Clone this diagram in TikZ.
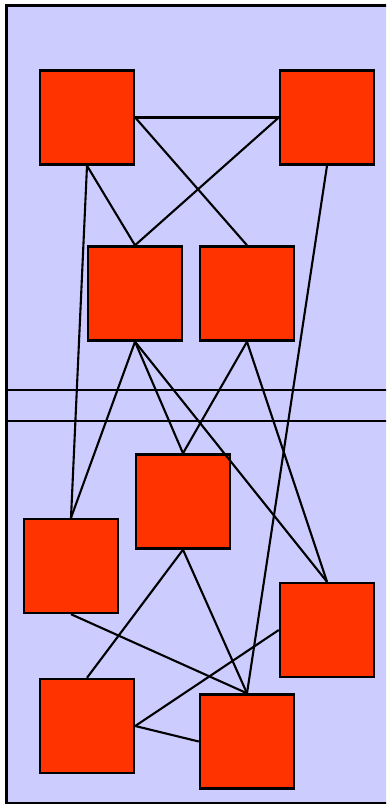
\documentclass[tikz,border=0pt]{standalone}
\usepackage{tikz}
\definecolor{panelblue}{HTML}{CCCCFF}
\definecolor{boxred}{HTML}{FF3300}
\begin{document}
\begin{tikzpicture}[
  x=0.02cm, y=-0.02cm,
  box/.style={rectangle, draw, fill=boxred, line width=1.4pt, minimum size=1.88cm, inner sep=0pt},
  link/.style={line width=1.2pt}
]
\clip (0,0) rectangle (386,805);

% Panel and separators
\draw[fill=panelblue, line width=1.3pt] (6.5,5.5) rectangle (400,803);
\draw[line width=1.3pt] (6.5,390) -- (400,390);
\draw[line width=1.3pt] (6.5,421) -- (400,421);

% Boxes
\node[box] (topleft) at (87,117.5) {};
\node[box] (topright) at (327,117.5) {};
\node[box] (midleft) at (135,293.5) {};
\node[box] (midright) at (247,293.5) {};
\node[box] (lowcenter) at (183,501.5) {};
\node[box] (lowleft) at (71,566) {};
\node[box] (lowright) at (327,630) {};
\node[box] (botleft) at (87,726) {};
\node[box] (botright) at (247,741.5) {};

% Links
\draw[link] (topleft.east) -- (topright.west);
\draw[link] (topleft.east) -- (midright.north);
\draw[link] (topright.west) -- (midleft.north);
\draw[link] (topleft.south) -- (midleft.north);
\draw[link] (topleft.south) -- (lowleft.north);
\draw[link] (topright.south) -- (botright.north);
\draw[link] (midleft.south) -- (lowleft.north);
\draw[link] (midleft.south) -- (lowcenter.north);
\draw[link] (midleft.south) -- (lowright.north);
\draw[link] (midright.south) -- (lowcenter.north);
\draw[link] (midright.south) -- (lowright.north);
\draw[link] (lowcenter.south) -- (botleft.north);
\draw[link] (lowcenter.south) -- (botright.north);
\draw[link] (lowleft.south) -- (botright.north);
\draw[link] (lowright.west) -- (botleft.east);
\draw[link] (botleft.east) -- (botright.west);

\end{tikzpicture}
\end{document}
